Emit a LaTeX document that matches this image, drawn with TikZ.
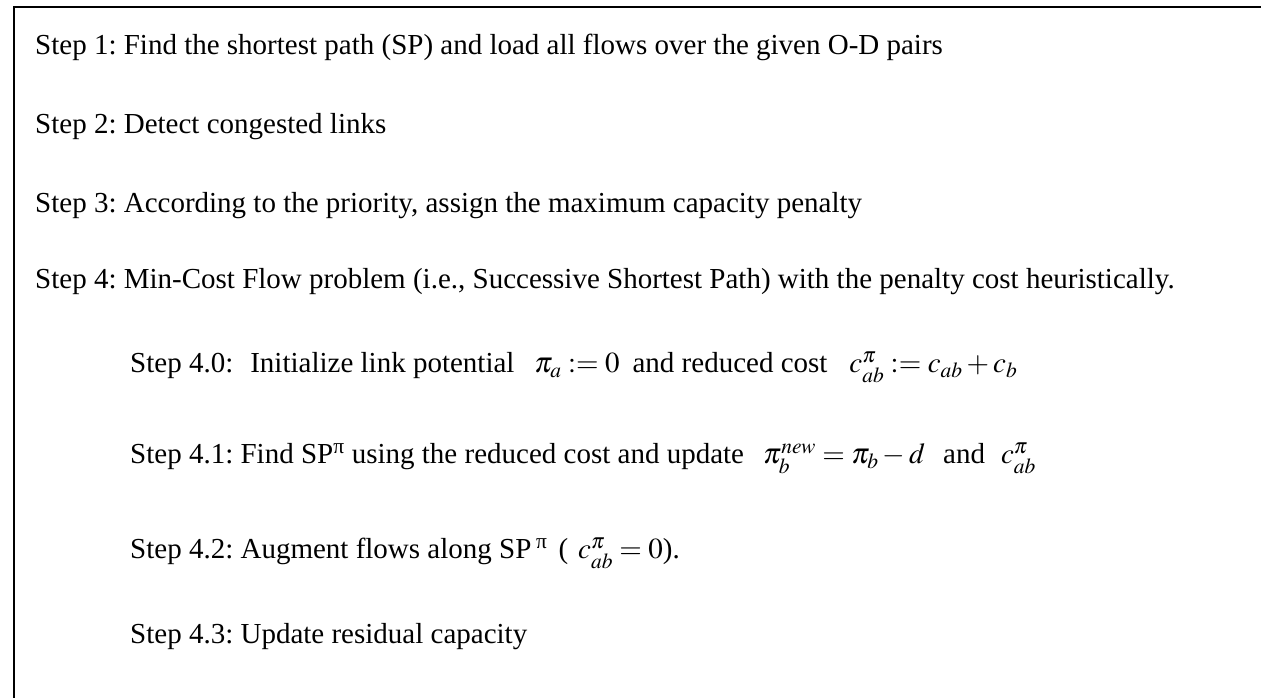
\documentclass[tikz,border=0pt]{standalone}
\usepackage{mathptmx}
\usepackage{fontspec}
\setmainfont{Liberation Serif}
\usepackage{graphicx}
\frenchspacing
\tikzset{
  steptext/.style={anchor=base west, inner sep=0pt, font=\fontsize{29}{34}\selectfont},
  frameline/.style={line width=2.2pt, black}
}
\begin{document}
\begin{tikzpicture}[x=1pt,y=1pt]
\useasboundingbox (0,0) rectangle (1261,698);
\clip (0,0) rectangle (1261,698);
\draw[frameline] (14,-20) rectangle (1290,691.3);
\node[steptext] (s1) at (35,643) {Step 1: Find the shortest path (SP) and load all flows over the given O-D pairs};
\node[steptext] (s2) at (35,564) {Step 2: Detect congested links};
\node[steptext] (s3) at (35,485) {Step 3: According to the priority, assign the maximum capacity penalty};
\node[steptext] (s4) at (35,409) {Step 4: Min-Cost Flow problem (i.e., Successive Shortest Path) with the penalty cost heuristically.};
\node[steptext] (s40) at (130,325) {Step 4.0:\hspace{17pt}Initialize link potential\hspace{20pt}$\pi_a := 0$\hspace{13pt}and reduced cost\hspace{22pt}$c^{\pi}_{ab} := c_{ab} + c_b$};
\node[steptext] (s41) at (130,234) {Step 4.1: Find SP\textsuperscript{π} using the reduced cost and update\hspace{19pt}$\pi^{new}_b = \pi_b - d$\hspace{18pt}and\hspace{16pt}$c^{\pi}_{ab}$};
\node[steptext] (s42) at (130,139) {Step 4.2: Augment flows along SP\,\textsuperscript{π}\hspace{11pt}(\hspace{10pt}$c^{\pi}_{ab} = 0$).};
\node[steptext] (s43) at (130,54) {Step 4.3: Update residual capacity};
\end{tikzpicture}
\end{document}
